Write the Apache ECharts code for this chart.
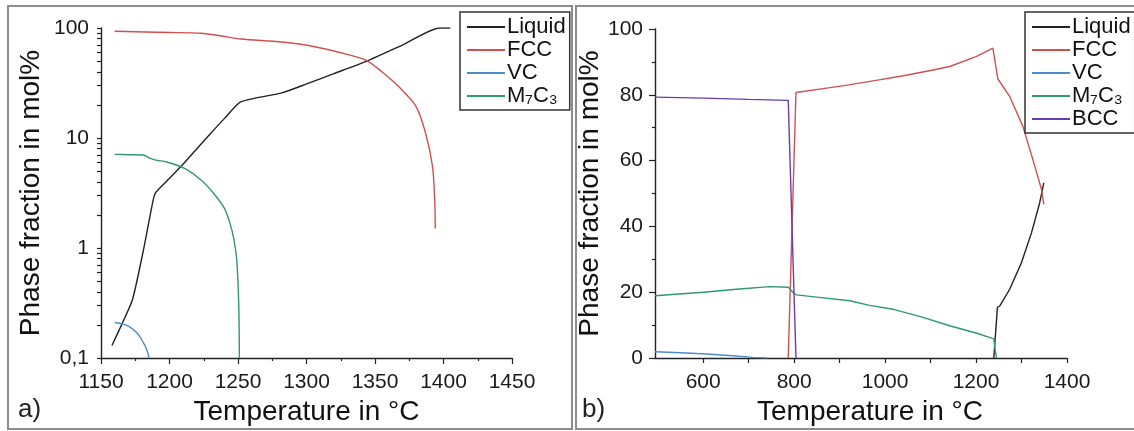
<!DOCTYPE html>
<html>
<head>
<meta charset="utf-8">
<script src="https://cdn.jsdelivr.net/npm/echarts@6/dist/echarts.min.js"></script>
<style>
  html, body { margin: 0; padding: 0; background: #fff; }
  #chart { width: 1134px; height: 431px; }
</style>
</head>
<body>
<div id="chart"></div>
<script>
// ---- panel a) : log scale, temperatures in °C, fractions in mol%
const tLiquidA = [1158, 1165, 1173, 1181, 1188, 1190, 1200, 1210, 1220, 1230, 1240, 1252, 1282, 1300, 1320, 1344, 1370, 1397, 1405];
const vLiquidA = [0.13, 0.2, 0.34, 0.96, 2.7, 3.2, 4.3, 5.8, 8.0, 11, 15, 21.3, 25.7, 31, 38.5, 50, 70, 100, 100];
const tFccA = [1160, 1200, 1223, 1237, 1252, 1282, 1306, 1331, 1344, 1355, 1367, 1380, 1387, 1392, 1393.6, 1394];
const vFccA = [93.5, 91, 89.5, 85, 79.4, 74.6, 67.6, 57, 50.5, 40, 29.5, 19.3, 11, 5.5, 2.7, 1.5];
const tVcA = [1160, 1165, 1170, 1176.5, 1181, 1183.5, 1185];
const vVcA = [0.21, 0.205, 0.195, 0.168, 0.137, 0.118, 0.1];
const tM7c3A = [1160, 1170, 1181, 1185, 1190, 1198, 1211, 1223, 1232, 1240, 1244, 1247, 1249, 1250, 1250.7, 1251];
const vM7c3A = [7.1, 7.05, 7.0, 6.6, 6.3, 6.05, 5.3, 4.15, 3.16, 2.3, 1.7, 1.2, 0.8, 0.48, 0.25, 0.1];

// ---- panel b) : linear scale
const tLiquidB = [1239, 1247, 1252, 1274, 1300, 1322, 1340, 1349];
const vLiquidB = [0, 15.4, 15.8, 20.9, 29, 38.1, 47.2, 53.2];
const tFccB = [787, 804, 860, 920, 980, 1040, 1100, 1142, 1200, 1237, 1248, 1274, 1303, 1325, 1344, 1349];
const vFccB = [0, 80.7, 81.8, 83.0, 84.4, 85.8, 87.4, 88.6, 91.6, 94.2, 84.8, 79.5, 70.4, 60.3, 51.2, 46.7];
const tVcB = [494, 550, 607, 665, 709, 740];
const vVcB = [1.9, 1.6, 1.2, 0.7, 0.2, 0];
const tM7c3B = [494, 600, 673, 746, 787, 800, 805, 850, 922, 966, 1018, 1080, 1142, 1200, 1239, 1242, 1245];
const vM7c3B = [18.9, 20.0, 20.9, 21.7, 21.5, 19.6, 19.2, 18.5, 17.4, 16.0, 14.8, 12.5, 9.8, 7.6, 5.8, 2.5, 0];
const tBccB = [494, 600, 700, 787, 804];
const vBccB = [79.3, 79.0, 78.6, 78.3, 0];

const legendA = ["Liquid", "FCC", "VC", "M₇C₃"];
const legendB = ["Liquid", "FCC", "VC", "M₇C₃", "BCC"];
const labelsB = [600, 800, 1000, 1200, 1400];
const ticksB = [600, 700, 800, 900, 1000, 1100, 1200, 1300, 1400];
const labelsLog = [0.1, 1, 10, 100];
const ticksLog = [0.1, 0.2, 0.3, 0.4, 0.5, 0.6, 0.7, 0.8, 0.9, 1, 2, 3, 4, 5, 6, 7, 8, 9, 10, 20, 30, 40, 50, 60, 70, 80, 90, 100];

const colors = {
  "Liquid": "#222222",
  "FCC": "#d24f50",
  "VC": "#4c8cca",
  "M₇C₃": "#2f9a6c",
  "BCC": "#6b3bb0",
};

const FONT = "Liberation Sans, Arial, sans-serif";
const zip = (xs, ys) => xs.map((x, i) => [x, ys[i]]);

function line(name, xs, ys, xi, yi, smooth) {
  return {
    name: name,
    type: "line",
    xAxisIndex: xi,
    yAxisIndex: yi,
    data: zip(xs, ys),
    showSymbol: false,
    symbol: "none",
    smooth: smooth || false,
    lineStyle: { color: colors[name], width: 1.4 },
    itemStyle: { color: colors[name] },
    clip: true,
  };
}

const axisLine = { lineStyle: { color: "#222", width: 1.4 } };
const tickStyle = { lineStyle: { color: "#222", width: 1.2 } };
const labelStyle = { fontSize: 21, color: "#1a1a1a", fontFamily: FONT };
const nameStyle = { fontSize: 28, color: "#111", fontFamily: FONT };
const plain = (v) => String(v);

function legend(names, left) {
  return {
    data: names,
    orient: "vertical",
    left: left,
    top: 12,
    icon: "rect",
    itemWidth: 38,
    itemHeight: 2,
    itemGap: 1,
    padding: [4, 4, 3, 7],
    borderColor: "#333",
    borderWidth: 1.5,
    backgroundColor: "#fff",
    selectedMode: false,
    textStyle: { fontSize: 22, color: "#111", fontFamily: FONT, padding: [0, 0, 0, -3] },
  };
}

const chart = echarts.init(document.getElementById("chart"), null, { renderer: "canvas" });

chart.setOption({
  animation: false,
  backgroundColor: "#fff",
  grid: [
    { left: 101, top: 28, width: 411, height: 330 },
    { left: 655, top: 29, width: 412, height: 330 },
  ],
  xAxis: [
    {
      gridIndex: 0, type: "value", min: 1150, max: 1450, interval: 50,
      name: "Temperature in °C", nameLocation: "middle", nameGap: 40, nameTextStyle: nameStyle,
      axisLine: axisLine, axisTick: Object.assign({ length: 6 }, tickStyle),
      minorTick: Object.assign({ show: true, splitNumber: 2, length: 3 }, tickStyle),
      axisLabel: Object.assign({ margin: 14, formatter: plain }, labelStyle),
      splitLine: { show: false },
    },
    {
      gridIndex: 1, type: "value", min: 494, max: 1400,
      name: "Temperature in °C", nameLocation: "middle", nameGap: 40,
      nameTextStyle: Object.assign({ padding: [0, 0, 0, 18] }, nameStyle),
      axisLine: axisLine,
      axisTick: Object.assign({ length: 5, customValues: ticksB }, tickStyle),
      axisLabel: Object.assign({ margin: 14, customValues: labelsB, formatter: plain }, labelStyle),
      splitLine: { show: false },
    },
  ],
  yAxis: [
    {
      gridIndex: 0, type: "log", logBase: 10, min: 0.1, max: 100,
      name: "Phase fraction in mol%", nameLocation: "middle", nameGap: 56, nameTextStyle: nameStyle,
      axisLine: axisLine,
      axisTick: Object.assign({ length: 4, customValues: ticksLog }, tickStyle),
      axisLabel: Object.assign({ margin: 12, customValues: labelsLog,
        formatter: (v) => String(v).replace(".", ",") }, labelStyle),
      splitLine: { show: false },
    },
    {
      gridIndex: 1, type: "value", min: 0, max: 100, interval: 20,
      name: "Phase fraction in mol%", nameLocation: "middle", nameGap: 48, nameTextStyle: nameStyle,
      axisLine: axisLine, axisTick: Object.assign({ length: 6 }, tickStyle),
      minorTick: Object.assign({ show: true, splitNumber: 2, length: 3 }, tickStyle),
      axisLabel: Object.assign({ margin: 12 }, labelStyle),
      splitLine: { show: false },
    },
  ],
  legend: [legend(legendA, 460), legend(legendB, 1025)],
  series: [
    line("Liquid", tLiquidA, vLiquidA, 0, 0, 0.2),
    line("FCC", tFccA, vFccA, 0, 0, 0.3),
    line("VC", tVcA, vVcA, 0, 0, 0.4),
    line("M₇C₃", tM7c3A, vM7c3A, 0, 0, 0.3),
    line("Liquid", tLiquidB, vLiquidB, 1, 1),
    line("FCC", tFccB, vFccB, 1, 1),
    line("VC", tVcB, vVcB, 1, 1),
    line("M₇C₃", tM7c3B, vM7c3B, 1, 1),
    line("BCC", tBccB, vBccB, 1, 1),
  ],
  graphic: [
    { type: "rect", z: -1, shape: { x: 8, y: 6, width: 564, height: 423 },
      style: { fill: "none", stroke: "#8c8c8c", lineWidth: 2 } },
    { type: "rect", z: -1, shape: { x: 576, y: 6, width: 562, height: 423 },
      style: { fill: "none", stroke: "#8c8c8c", lineWidth: 2 } },
    { type: "text", left: 18, top: 397,
      style: { text: "a)", font: "26px " + FONT, fill: "#222" } },
    { type: "text", left: 582, top: 397,
      style: { text: "b)", font: "26px " + FONT, fill: "#222" } },
  ],
});

window.addEventListener("resize", () => chart.resize());
</script>
</body>
</html>
